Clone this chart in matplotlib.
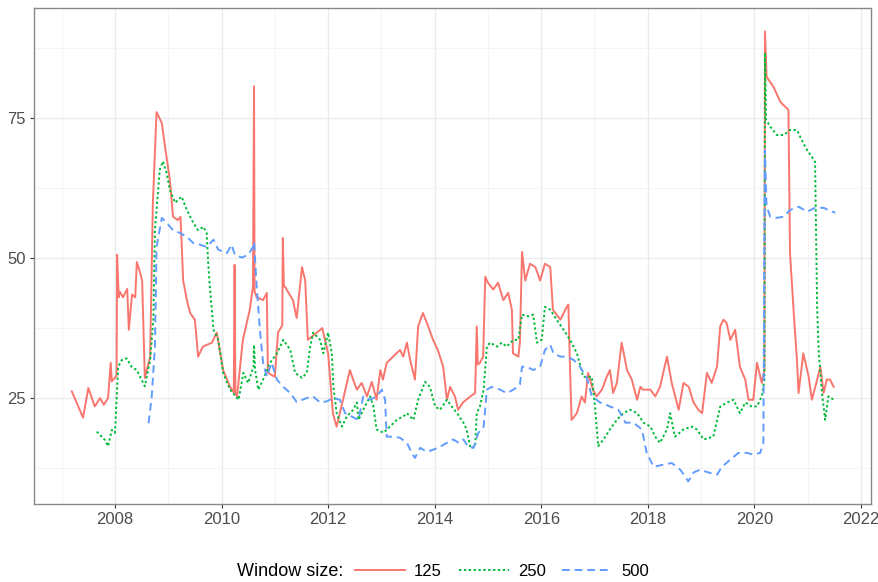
import matplotlib
matplotlib.use("Agg")
import matplotlib.pyplot as plt
from matplotlib.lines import Line2D

plt.rcParams['font.family'] = ['Liberation Sans', 'DejaVu Sans']

# Window size 125 (red, solid)
red_year = [2007.19, 2007.40, 2007.50, 2007.62, 2007.72, 2007.79, 2007.87, 2007.92, 2007.94, 2008.03,
            2008.04, 2008.07, 2008.09, 2008.15, 2008.23, 2008.26, 2008.32, 2008.38, 2008.41, 2008.47,
            2008.51, 2008.56, 2008.66, 2008.71, 2008.78, 2008.88, 2008.94, 2009.03, 2009.09, 2009.18,
            2009.23, 2009.25, 2009.28, 2009.35, 2009.41, 2009.50, 2009.56, 2009.65, 2009.82, 2009.91,
            2010.03, 2010.16, 2010.23, 2010.245, 2010.26, 2010.29, 2010.40, 2010.53, 2010.59, 2010.61,
            2010.62, 2010.66, 2010.78, 2010.85, 2010.87, 2011.00, 2011.06, 2011.14, 2011.15, 2011.17,
            2011.19, 2011.34, 2011.41, 2011.51, 2011.57, 2011.62, 2011.79, 2011.89, 2012.00, 2012.09,
            2012.16, 2012.28, 2012.41, 2012.47, 2012.54, 2012.63, 2012.73, 2012.82, 2012.91, 2012.98,
            2013.03, 2013.10, 2013.22, 2013.35, 2013.41, 2013.48, 2013.54, 2013.63, 2013.69, 2013.78,
            2013.88, 2013.97, 2014.06, 2014.16, 2014.23, 2014.29, 2014.38, 2014.44, 2014.53, 2014.67,
            2014.76, 2014.79, 2014.81, 2014.85, 2014.91, 2014.95, 2015.00, 2015.10, 2015.19, 2015.29,
            2015.38, 2015.45, 2015.47, 2015.57, 2015.60, 2015.64, 2015.70, 2015.79, 2015.89, 2015.98,
            2016.07, 2016.17, 2016.22, 2016.36, 2016.48, 2016.51, 2016.54, 2016.57, 2016.67, 2016.76,
            2016.82, 2016.88, 2016.97, 2017.04, 2017.14, 2017.23, 2017.29, 2017.35, 2017.42, 2017.51,
            2017.61, 2017.70, 2017.80, 2017.86, 2017.91, 2018.05, 2018.14, 2018.23, 2018.36, 2018.45,
            2018.58, 2018.67, 2018.77, 2018.86, 2018.95, 2019.02, 2019.11, 2019.20, 2019.30, 2019.36,
            2019.42, 2019.48, 2019.55, 2019.64, 2019.73, 2019.83, 2019.89, 2019.98, 2020.05, 2020.14,
            2020.19, 2020.20, 2020.23, 2020.36, 2020.49, 2020.64, 2020.67, 2020.74, 2020.80, 2020.83,
            2020.92, 2021.02, 2021.08, 2021.18, 2021.24, 2021.30, 2021.36, 2021.42, 2021.49]
red_val = [26.2, 21.5, 26.8, 23.5, 25.0, 23.8, 25.0, 31.3, 28.0, 29.0,
           50.6, 43.0, 44.0, 43.0, 44.5, 37.2, 43.5, 43.0, 49.3, 47.5,
           46.0, 28.6, 32.4, 59.5, 76.1, 74.1, 69.9, 64.0, 57.4, 56.8,
           57.4, 52.7, 46.0, 42.5, 40.2, 39.0, 32.4, 34.2, 34.9, 36.7,
           30.0, 27.0, 26.0, 48.8, 26.0, 25.2, 35.4, 40.8, 44.9, 80.7,
           44.0, 43.0, 42.5, 43.8, 29.5, 28.8, 36.7, 38.0, 53.6, 45.0,
           44.9, 42.5, 39.3, 48.4, 46.0, 35.4, 36.7, 37.5, 33.0, 22.3,
           19.9, 24.7, 30.0, 28.3, 26.5, 27.7, 25.3, 27.9, 24.7, 30.0,
           28.3, 31.3, 32.4, 33.6, 32.4, 34.9, 31.8, 28.3, 37.8, 40.2,
           37.8, 35.4, 33.6, 30.6, 24.7, 27.0, 25.3, 22.9, 24.2, 25.3,
           25.9, 37.8, 31.0, 31.3, 32.4, 46.7, 45.6, 44.4, 45.6, 42.5,
           43.8, 40.8, 33.0, 32.4, 34.9, 51.1, 46.0, 49.0, 48.4, 46.0,
           49.0, 48.4, 40.8, 39.0, 41.3, 41.7, 30.6, 21.1, 22.3, 25.3,
           24.2, 29.5, 26.5, 25.3, 26.5, 28.8, 30.0, 25.9, 27.7, 34.9,
           30.0, 28.3, 24.7, 27.0, 26.5, 26.5, 25.3, 27.0, 32.4, 27.7,
           22.9, 27.7, 27.0, 24.2, 22.9, 22.3, 29.5, 27.7, 30.6, 37.8,
           39.0, 38.4, 35.4, 37.2, 30.6, 28.3, 24.7, 24.7, 31.3, 27.7,
           30.0, 90.5, 82.4, 80.6, 77.9, 76.5, 50.9, 40.2, 31.8, 25.9,
           33.0, 28.8, 24.7, 28.3, 30.6, 25.9, 28.3, 28.3, 27.0]

# Window size 250 (green, dotted)
green_year = [2007.66, 2007.75, 2007.81, 2007.87, 2007.94, 2008.00, 2008.06, 2008.13, 2008.22, 2008.31,
              2008.41, 2008.56, 2008.66, 2008.72, 2008.75, 2008.84, 2008.90, 2008.97, 2009.03, 2009.13,
              2009.25, 2009.35, 2009.47, 2009.56, 2009.66, 2009.72, 2009.75, 2009.78, 2009.85, 2009.94,
              2010.03, 2010.16, 2010.32, 2010.41, 2010.50, 2010.60, 2010.61, 2010.63, 2010.69, 2010.78,
              2010.91, 2011.04, 2011.16, 2011.29, 2011.38, 2011.51, 2011.60, 2011.66, 2011.72, 2011.85,
              2011.91, 2012.00, 2012.07, 2012.10, 2012.16, 2012.26, 2012.35, 2012.47, 2012.54, 2012.57,
              2012.69, 2012.79, 2012.85, 2012.91, 2013.04, 2013.16, 2013.29, 2013.41, 2013.48, 2013.60,
              2013.69, 2013.82, 2013.91, 2014.01, 2014.10, 2014.23, 2014.32, 2014.42, 2014.54, 2014.60,
              2014.67, 2014.76, 2014.79, 2014.85, 2014.92, 2014.98, 2015.04, 2015.17, 2015.26, 2015.35,
              2015.48, 2015.57, 2015.64, 2015.76, 2015.85, 2015.92, 2016.01, 2016.07, 2016.17, 2016.29,
              2016.42, 2016.54, 2016.67, 2016.79, 2016.95, 2017.01, 2017.07, 2017.17, 2017.29, 2017.42,
              2017.54, 2017.67, 2017.80, 2017.92, 2018.05, 2018.14, 2018.23, 2018.36, 2018.42, 2018.51,
              2018.67, 2018.83, 2018.92, 2019.05, 2019.23, 2019.36, 2019.49, 2019.61, 2019.73, 2019.83,
              2019.95, 2020.05, 2020.14, 2020.19, 2020.20, 2020.22, 2020.30, 2020.42, 2020.55, 2020.67,
              2020.80, 2020.89, 2020.99, 2021.08, 2021.14, 2021.18, 2021.21, 2021.27, 2021.33, 2021.39,
              2021.49]
green_val = [19.0, 18.1, 17.5, 16.4, 19.3, 18.8, 30.6, 31.8, 32.1, 30.6,
             30.0, 27.1, 31.8, 39.0, 55.0, 65.8, 67.3, 65.2, 62.2, 59.9,
             61.0, 58.6, 56.3, 55.0, 55.6, 54.5, 49.1, 44.9, 37.2, 35.4,
             29.5, 26.5, 24.7, 29.5, 27.7, 30.6, 34.5, 30.0, 26.5, 28.3,
             31.3, 33.0, 35.4, 33.6, 29.5, 28.6, 29.5, 34.0, 36.7, 35.4,
             33.0, 36.7, 33.0, 27.0, 22.3, 19.9, 21.7, 22.9, 24.2, 21.1,
             23.5, 25.3, 23.5, 19.4, 18.8, 19.9, 21.1, 21.7, 22.3, 21.1,
             24.7, 27.9, 27.0, 23.5, 22.9, 24.7, 23.5, 22.3, 20.6, 19.4,
             16.1, 16.3, 22.3, 23.5, 26.5, 34.2, 34.9, 34.2, 34.9, 34.2,
             35.4, 35.4, 39.9, 39.6, 39.9, 34.9, 35.4, 41.3, 40.8, 39.0,
             37.2, 35.4, 33.0, 28.8, 28.8, 23.5, 16.4, 17.6, 19.4, 21.1,
             22.3, 22.9, 22.3, 20.6, 19.9, 18.1, 17.0, 19.4, 22.3, 18.1,
             19.4, 19.9, 19.4, 17.6, 18.1, 23.5, 24.2, 24.7, 22.3, 24.2,
             23.5, 23.5, 25.3, 28.3, 86.7, 74.7, 73.5, 72.0, 72.0, 72.9,
             72.9, 71.1, 69.3, 68.1, 67.2, 40.8, 33.0, 25.9, 21.1, 25.3,
             24.7]

# Window size 500 (blue, dashed)
blue_year = [2008.63, 2008.69, 2008.75, 2008.78, 2008.88, 2008.97, 2009.09, 2009.22, 2009.35, 2009.47,
             2009.60, 2009.72, 2009.85, 2009.94, 2010.10, 2010.19, 2010.25, 2010.38, 2010.50, 2010.59,
             2010.61, 2010.66, 2010.72, 2010.78, 2010.85, 2010.94, 2011.04, 2011.16, 2011.29, 2011.41,
             2011.60, 2011.72, 2011.85, 2011.97, 2012.10, 2012.22, 2012.32, 2012.44, 2012.57, 2012.66,
             2012.79, 2012.91, 2013.01, 2013.07, 2013.10, 2013.23, 2013.35, 2013.48, 2013.57, 2013.63,
             2013.73, 2013.85, 2013.98, 2014.10, 2014.23, 2014.35, 2014.45, 2014.54, 2014.63, 2014.73,
             2014.82, 2014.92, 2014.98, 2015.07, 2015.23, 2015.35, 2015.48, 2015.60, 2015.64, 2015.73,
             2015.85, 2015.98, 2016.07, 2016.17, 2016.23, 2016.36, 2016.48, 2016.61, 2016.73, 2016.86,
             2016.95, 2017.11, 2017.29, 2017.45, 2017.58, 2017.73, 2017.89, 2017.98, 2018.11, 2018.29,
             2018.45, 2018.61, 2018.70, 2018.76, 2018.86, 2018.98, 2019.14, 2019.30, 2019.39, 2019.55,
             2019.70, 2019.86, 2019.98, 2020.11, 2020.17, 2020.19, 2020.20, 2020.23, 2020.30, 2020.42,
             2020.55, 2020.67, 2020.83, 2020.99, 2021.14, 2021.30, 2021.39, 2021.52]
blue_val = [20.5, 25.3, 34.2, 52.0, 57.2, 56.3, 55.0, 54.5, 53.8, 52.7,
            52.4, 52.0, 53.3, 51.5, 50.9, 52.4, 50.6, 50.1, 50.6, 52.0,
            52.9, 44.9, 37.2, 31.3, 28.8, 31.3, 28.3, 27.0, 25.9, 24.3,
            25.0, 25.3, 24.2, 24.4, 25.0, 24.7, 22.3, 21.7, 21.1, 25.3,
            24.7, 25.3, 26.5, 24.7, 18.1, 18.1, 17.9, 17.0, 15.2, 14.3,
            16.1, 15.4, 15.8, 16.3, 17.0, 17.6, 17.0, 17.6, 16.3, 16.1,
            18.8, 19.9, 26.5, 27.0, 26.5, 25.9, 26.5, 27.4, 30.6, 30.6,
            30.0, 30.6, 33.6, 34.5, 33.0, 32.4, 32.4, 31.8, 30.6, 28.5,
            25.3, 24.2, 23.5, 22.9, 20.6, 20.6, 19.4, 15.2, 12.7, 13.1,
            13.4, 12.2, 11.0, 10.1, 11.7, 12.2, 11.7, 11.3, 12.7, 14.0,
            15.2, 15.2, 14.9, 15.2, 17.0, 55.6, 69.3, 59.2, 57.4, 57.2,
            57.4, 58.6, 59.2, 58.3, 59.0, 59.0, 58.6, 58.1]

window_labels = ['125', '250', '500']
colors = ['#F8766D', '#00BA38', '#619CFF']
styles = ['-', (0, (1.2, 1.3)), (0, (4, 2.5))]

fig = plt.figure(figsize=(8.79, 5.82), dpi=100)
ax = fig.add_axes([34 / 879, 1 - 504 / 582, (871 - 34) / 879, (504 - 8) / 582])

series = [(red_year, red_val), (green_year, green_val), (blue_year, blue_val)]
for (xs, ys), c, ls in zip(series, colors, styles):
    ax.plot(xs, ys, color=c, linestyle=ls, linewidth=1.4)

ax.set_xlim(2006.48, 2022.19)
ax.set_ylim(6.07, 94.7)
ax.set_xticks(range(2008, 2023, 2))
ax.set_xticks(range(2007, 2023, 2), minor=True)
ax.set_yticks([25, 50, 75])
ax.set_yticks([12.5, 37.5, 62.5, 87.5], minor=True)

ax.grid(True, which='major', color='#EBEBEB', linewidth=1.0)
ax.grid(True, which='minor', color='#F3F3F3', linewidth=0.6)
ax.set_axisbelow(True)
for sp in ax.spines.values():
    sp.set_color('#888888')
    sp.set_linewidth(1.0)
ax.tick_params(which='major', length=3, width=0.8, color='#333333',
               labelcolor='#4D4D4D', labelsize=12, pad=3)
ax.tick_params(which='minor', length=0)

# legend at bottom, title on the left
fig.text(290 / 879, 1 - 571 / 582, 'Window size:', ha='center', va='center',
         fontsize=13, color='black')
handles = [Line2D([0], [0], color=c, linestyle=ls, linewidth=1.4)
           for c, ls in zip(colors, styles)]
fig.legend(handles, window_labels, loc='center left', ncol=3, frameon=False,
           bbox_to_anchor=(340 / 879, 1 - 571 / 582), fontsize=12,
           handlelength=3.0, handletextpad=0.55, columnspacing=1.0)

fig.savefig('out.png', dpi=100)
